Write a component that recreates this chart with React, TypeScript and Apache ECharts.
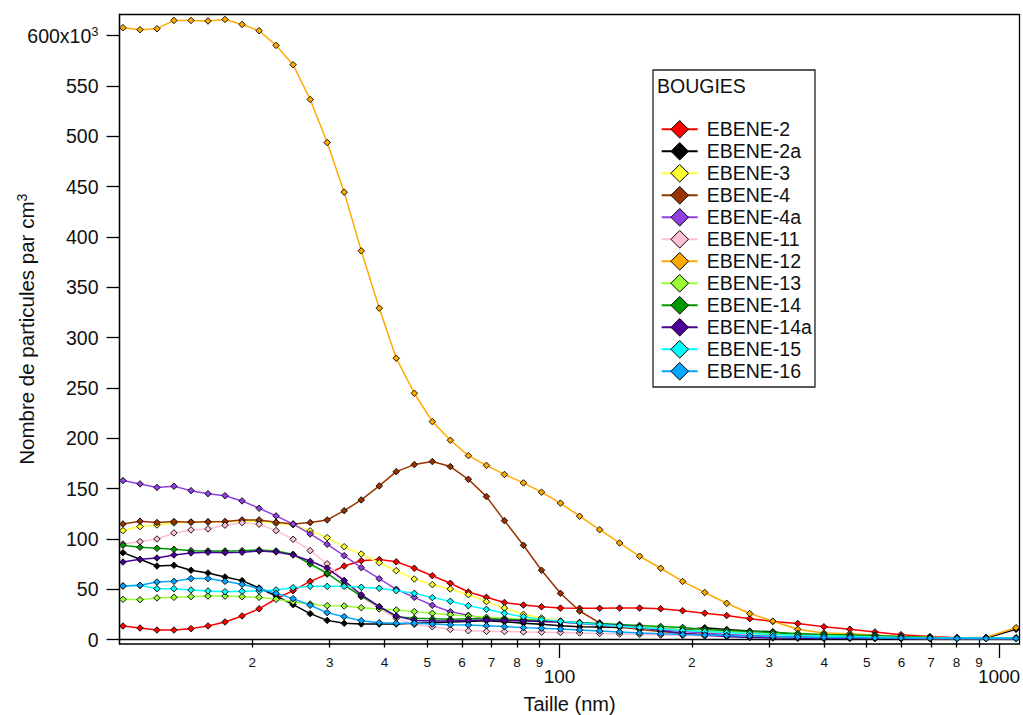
import React, { useEffect, useRef } from 'react';
import * as echarts from 'echarts';

// Particle diameter (nm) of each measurement channel
const sizesNm = [10.16, 11.11, 12.14, 13.27, 14.51, 15.86, 17.34, 18.96, 20.73, 22.66, 24.77, 27.09, 29.61, 32.37, 35.4, 38.9, 42.52, 46.74, 51.37, 56.45, 62.05, 68.2, 74.94, 82.79, 91.0, 100.5, 111.1, 123.4, 137.0, 152.1, 169.9, 190.6, 214.0, 240.1, 270.9, 305.7, 348.4, 399.5, 457.7, 521.9, 598.2, 696.3, 802.3, 934.1, 1093];

// Concentrations in thousands of particles per cm3
const ebene2 = [13.4, 11.4, 9.4, 9.4, 10.8, 13.5, 17.4, 23.4, 30.5, 40.5, 48.5, 57.8, 65, 73, 78.3, 79.5, 77.2, 70.8, 63.4, 55.9, 47.2, 41.9, 36.8, 34.2, 32.5, 31.2, 31, 31, 31.2, 31.2, 30.5, 28.6, 26.2, 23.8, 20.7, 18, 15.9, 12.7, 10.2, 7.5, 4.8, 3, 1.8, 1.5, 1.2];
const ebene2a = [86.3, 79.7, 73, 73.7, 68.8, 66.1, 62.1, 58.5, 51.2, 43.2, 34.6, 25.7, 19, 16.1, 15.4, 15.4, 15.4, 16.1, 16.7, 17.4, 18, 18.7, 17.7, 16.1, 15.1, 13.7, 12.7, 12.5, 12, 11.5, 11, 9.5, 11.7, 10, 8.4, 7.8, 4.5, 4.5, 4.5, 4.5, 1.2, 2, 1.2, 1.5, 10.1];
const ebene3 = [108.2, 112.2, 113.8, 115.8, 116.8, 116.8, 116.8, 117.8, 117.5, 115.5, 114.1, 107.9, 101.2, 92.2, 85, 76.3, 68.4, 60.1, 54.5, 50.2, 44.5, 37.6, 31.3, 25, 21.4, 18.5, 16.5, 15, 13.5, 12, 10.5, 9, 8, 7, 6, 5, 4, 3.5, 3, 2.5, 2, 1.5, 1.5, 1.5, 1.5];
const ebene4 = [114.8, 117.5, 116.2, 117.2, 116.5, 116.9, 117.2, 118.8, 118.8, 116.5, 114.8, 116.2, 118.8, 128, 138.7, 152.6, 166.8, 173.8, 176.8, 171.8, 159.2, 142, 118.1, 93.6, 68.8, 45.9, 28.3, 16.5, 13, 10, 8, 6, 5, 4, 3, 2.5, 2, 1.5, 1.5, 1.2, 1.2, 1.2, 1.2, 1.2, 1.2];
const ebene4a = [157.9, 154.6, 151.1, 152.3, 147.9, 144.9, 142.9, 137.7, 130.4, 122.8, 114.7, 104.9, 94.6, 83.3, 71.4, 60.4, 49.9, 41.9, 34, 27.6, 24, 20, 19.4, 18.7, 18.1, 17.4, 16, 14.5, 13, 11.5, 10, 8, 6.5, 5, 4, 3, 2.5, 2, 1.5, 1.5, 1, 1, 1, 1, 1];
const ebene11 = [94.9, 97.3, 99.9, 105.9, 108.9, 109.9, 113.6, 116.1, 114.5, 108.2, 99.6, 88.3, 75.2, 58.5, 42.5, 31, 21, 15, 12.7, 10, 8.7, 8.1, 8, 7.5, 7.3, 7, 6.5, 6, 5.5, 5, 4.5, 4, 3.5, 3, 2.5, 2, 2, 1.5, 1.5, 1.2, 1.2, 1, 1, 1, 1];
const ebene12 = [607.9, 605.9, 606.9, 615.1, 615.1, 614.5, 616.1, 611.1, 604.9, 590.3, 571.1, 536.6, 493.8, 444.5, 386.2, 329.2, 279.5, 244.7, 216.5, 198, 182.7, 173, 164, 155.6, 146.4, 135.5, 122.5, 109.1, 95.9, 82.7, 70.8, 57.7, 46.7, 36, 25.8, 18.2, 10.1, 6.5, 5.8, 4.3, 2.8, 2.2, 1.5, 2.2, 11.7];
const ebene13 = [39.9, 39.6, 41.3, 41.9, 42.6, 43.2, 43.2, 42.6, 41.9, 39.9, 37.6, 35.3, 33.6, 33.3, 31.6, 30.3, 29.3, 27.7, 26, 24.7, 23.4, 22, 21, 20, 18.7, 17.7, 16.5, 15, 13.5, 12, 11, 9.5, 8.5, 7.5, 6.5, 5.5, 4.5, 4, 3.5, 3, 2.5, 2, 1.5, 1.5, 1.5];
const ebene14 = [93.6, 91.6, 90.6, 89.6, 88.3, 88, 88, 88.3, 89, 88, 84.7, 75, 65.8, 54, 43.2, 32.6, 22.7, 21, 20.5, 20, 20.5, 20.5, 20, 19.5, 19, 18, 17, 16, 15, 14, 13, 12, 10, 9, 8, 7, 6, 5, 4.5, 4, 3, 2, 1.5, 1.5, 1.5];
const ebene14a = [77, 79.7, 81, 84, 86, 86.6, 86.3, 86.6, 88, 87, 84, 78, 70.8, 58.5, 44.5, 32.6, 23.4, 19, 18.5, 18.5, 19, 19.5, 19, 18.5, 18, 17.5, 16.5, 15, 14, 12.5, 9, 6, 4.5, 3, 2, 1.5, 1.2, 1.2, 1.2, 1.2, 1.2, 1.2, 1.2, 1.2, 1.2];
const ebene15 = [53.2, 53.8, 50.5, 50.5, 49.2, 48.2, 47.5, 47.9, 48.2, 49.2, 51.5, 52.8, 52.8, 52.8, 51.9, 50.9, 48.5, 45.9, 41.6, 38, 33.6, 30, 26, 22.7, 20, 18.1, 16.5, 15, 13.5, 12, 10.5, 9, 8, 7, 6, 5, 4, 3.5, 3, 2.5, 2, 1.5, 1.5, 1.5, 1.5];
const ebene16 = [53.2, 53.8, 57.1, 57.8, 60.5, 60.5, 57.8, 54.8, 50.5, 45.9, 40.6, 34, 26.7, 22.7, 18.7, 16.7, 16.1, 16.1, 15.4, 14.7, 14.4, 13.7, 12.8, 11.8, 11.1, 10.4, 9.5, 8.5, 7.5, 6.5, 5.6, 5, 4.5, 4, 3.5, 3, 2.5, 2, 2, 1.5, 1.5, 1.2, 1, 1, 1];

const seriesNames = ['EBENE-2', 'EBENE-2a', 'EBENE-3', 'EBENE-4', 'EBENE-4a', 'EBENE-11', 'EBENE-12', 'EBENE-13', 'EBENE-14', 'EBENE-14a', 'EBENE-15', 'EBENE-16'];
const seriesValues = [ebene2, ebene2a, ebene3, ebene4, ebene4a, ebene11, ebene12, ebene13, ebene14, ebene14a, ebene15, ebene16];
const seriesColors = ['#ff0000', '#000000', '#ffff33', '#993300', '#9040e0', '#ffbfd4', '#ffaa00', '#99ff33', '#009900', '#4b0099', '#00ffff', '#00a6ff'];

const minorTicksNm = [20, 30, 40, 50, 60, 70, 80, 90, 200, 300, 400, 500, 600, 700, 800, 900];
const majorTicksNm = [100, 1000];
const yTicks = [0, 50, 100, 150, 200, 250, 300, 350, 400, 450, 500, 550, 600];

const legendTitle = 'BOUGIES';

export default function App() {
  const ref = useRef<HTMLDivElement>(null);

  useEffect(() => {
    document.body.style.margin = '0';
    const chart = echarts.init(ref.current!, null, { renderer: 'svg' });
    const font = "'Liberation Sans', Arial, sans-serif";
    const xMin = Math.log10(9.977);
    const xMax = Math.log10(1113);
    const lg = (v: number) => Math.log10(v);

    const series = seriesNames.map((name, k) => ({
      name,
      type: 'line',
      xAxisIndex: 0,
      yAxisIndex: 0,
      data: sizesNm.map((s, i) => [lg(s), seriesValues[k][i]]),
      symbol: 'diamond',
      symbolSize: 6.5,
      showSymbol: true,
      showAllSymbol: true,
      lineStyle: { color: seriesColors[k], width: 1.5 },
      itemStyle: { color: seriesColors[k], borderColor: '#000', borderWidth: 0.9 },
      emphasis: { disabled: true },
      z: 2 + k,
    }));

    chart.setOption({
      animation: false,
      textStyle: { fontFamily: font },
      grid: {
        left: 119.5,
        top: 14.5,
        right: 3.5,
        bottom: 71,
        containLabel: false,
        outerBoundsMode: 'none',
        show: true,
        borderColor: '#000',
        borderWidth: 1.3,
      },
      xAxis: [
        {
          type: 'value',
          min: xMin,
          max: xMax,
          position: 'bottom',
          axisLine: { show: true, lineStyle: { color: '#000', width: 1.3 } },
          axisTick: {
            show: true,
            customValues: minorTicksNm.map(lg),
            length: 8,
            lineStyle: { color: '#000', width: 1.3 },
          },
          axisLabel: {
            customValues: minorTicksNm.map(lg),
            formatter: (v: number) => {
              const n = Math.round(Math.pow(10, v));
              const p = Math.pow(10, Math.floor(Math.log10(n) + 1e-9));
              return String(Math.round(n / p));
            },
            fontSize: 13.5,
            margin: 11,
            color: '#111',
            fontFamily: font,
          },
          splitLine: { show: false },
          name: 'Taille (nm)',
          nameLocation: 'middle',
          nameGap: 50,
          nameMoveOverlap: false,
          nameTextStyle: { fontSize: 20, color: '#111', fontFamily: font },
        },
        {
          type: 'value',
          min: xMin,
          max: xMax,
          position: 'bottom',
          axisLine: { show: false },
          axisTick: {
            show: true,
            customValues: majorTicksNm.map(lg),
            length: 14,
            lineStyle: { color: '#000', width: 1.3 },
          },
          axisLabel: {
            customValues: majorTicksNm.map(lg),
            formatter: (v: number) => String(Math.round(Math.pow(10, v))),
            fontSize: 19,
            margin: 23,
            color: '#111',
            fontFamily: font,
          },
          splitLine: { show: false },
        },
      ],
      yAxis: {
        type: 'value',
        min: -4.47,
        max: 621,
        axisLine: { show: true, lineStyle: { color: '#000', width: 1.3 } },
        axisTick: {
          show: true,
          customValues: yTicks,
          length: 13,
          lineStyle: { color: '#000', width: 1.3 },
        },
        axisLabel: {
          customValues: yTicks,
          formatter: (v: number) => (v === 600 ? '{n|600x10}{s|3}' : '{n|' + v + '}'),
          margin: 21,
          color: '#111',
          fontFamily: font,
          fontSize: 19.5,
          rich: {
            n: { fontSize: 19.5, color: '#111', fontFamily: font, lineHeight: 22 },
            s: { fontSize: 13, color: '#111', fontFamily: font, verticalAlign: 'top', lineHeight: 13 },
          },
        },
        splitLine: { show: false },
        name: '{a|Nombre de particules par cm}{b|3}',
        nameLocation: 'middle',
        nameGap: 82,
        nameMoveOverlap: false,
        nameTextStyle: {
          fontSize: 20.5,
          color: '#111',
          fontFamily: font,
          rich: {
            a: { fontSize: 20.5, color: '#111', fontFamily: font, lineHeight: 23 },
            b: { fontSize: 14, color: '#111', fontFamily: font, verticalAlign: 'top', lineHeight: 14 },
          },
        },
      },
      legend: {
        show: true,
        orient: 'vertical',
        left: 660.7,
        top: 118.3,
        padding: 0,
        itemWidth: 36,
        itemHeight: 22,
        itemGap: 0,
        selectedMode: false,
        data: seriesNames,
        itemStyle: { borderColor: '#000', borderWidth: 1 },
        textStyle: { fontSize: 19.5, lineHeight: 22, color: '#111', fontFamily: font, padding: [0, 0, 0, 4] },
      },
      graphic: [
        {
          type: 'rect',
          shape: { x: 653, y: 70, width: 162, height: 317 },
          style: { fill: 'none', stroke: '#222', lineWidth: 1.3 },
          z: 1,
        },
        {
          type: 'text',
          x: 657,
          y: 86,
          style: { text: legendTitle, fontSize: 19.5, fill: '#111', fontFamily: font, verticalAlign: 'middle' },
          z: 1,
        },
      ],
      series,
    });

    return () => chart.dispose();
  }, []);

  return <div ref={ref} style={{ width: 1023, height: 715 }} />;
}
